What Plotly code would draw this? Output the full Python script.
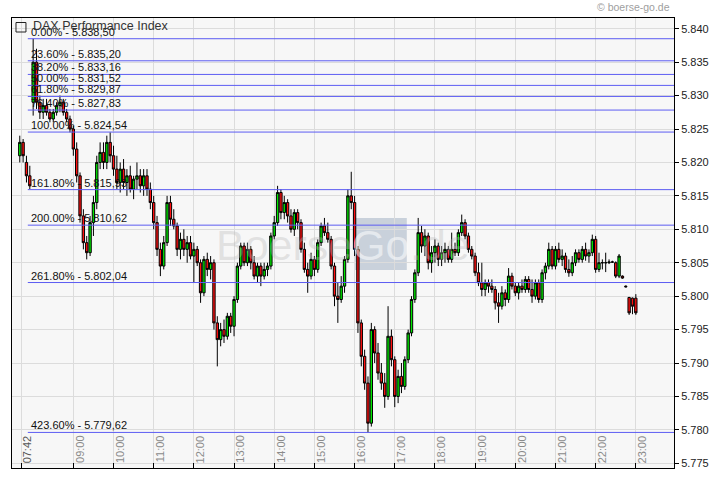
import pandas as pd
import plotly.graph_objects as go

DAY = "2010-11-04"

# 5-minute candles, 07:40 ... 23:00
open_ = [
    5821, 5823, 5820, 5818,
    5829, 5835, 5829, 5827.5, 5828.5, 5827.5, 5826.5, 5827.5, 5828.5, 5829, 5827.5, 5826.5,
    5825, 5822, 5818, 5812, 5808, 5806.5, 5811, 5814, 5820, 5821.5, 5820, 5823,
    5821, 5819, 5817, 5819, 5817, 5818, 5816, 5817.5, 5818, 5816.5, 5818, 5816,
    5814, 5811, 5807, 5804.5, 5808, 5814, 5811.5, 5810.5, 5807, 5808.5, 5807, 5808,
    5806, 5807, 5805, 5800.5, 5805.5, 5804, 5805, 5796, 5793.5, 5795, 5794, 5797,
    5795.5, 5799.5, 5804.5, 5807.5, 5805, 5807, 5805, 5803, 5804.5, 5803, 5804, 5804.5,
    5809, 5811, 5815.5, 5812.5, 5814, 5812, 5810, 5812.5, 5811, 5807, 5804, 5803,
    5805.5, 5804, 5808, 5810.5, 5809.5, 5808.5, 5804.5, 5800, 5799.5, 5801.5, 5805.5, 5815,
    5814, 5807, 5796, 5791, 5787, 5781, 5795, 5791.5, 5788.5, 5787, 5785, 5794,
    5790.5, 5785, 5788, 5786.5, 5790.5, 5794.5, 5799.5, 5803.5, 5809.5, 5807.5, 5809, 5805,
    5806.5, 5807.5, 5805.5, 5806.5, 5807, 5805.5, 5807, 5806.5, 5809.5, 5811, 5809, 5807,
    5806, 5803.5, 5802, 5801, 5802, 5801.5, 5801, 5799, 5798.5, 5800.5, 5799.5, 5803,
    5801.5, 5800.5, 5801.5, 5801, 5802.5, 5801, 5800, 5802, 5799.5, 5803.5, 5804.5, 5807,
    5804.5, 5807, 5805.5, 5806, 5804, 5803.5, 5805, 5806.5, 5805.5, 5807, 5806, 5806.5,
    5808.5, 5804, 5805, 5805, 5805, 5805.1, 5805, 5803, 5803, 5801.5, 5799.8, 5799.7,
    5799.7,
]
high_ = [
    5824, 5823.5, 5821, 5819.5,
    5838.5, 5837, 5830, 5829.5, 5829.5, 5828, 5828, 5829, 5830, 5829.5, 5828, 5827,
    5825.5, 5823, 5818.5, 5813, 5809, 5812, 5815, 5821, 5823, 5823, 5824, 5824.5,
    5822.5, 5821, 5820, 5820.5, 5819, 5819.5, 5818, 5820, 5819, 5819, 5819, 5817,
    5815, 5812, 5808, 5809, 5815, 5815, 5813, 5811, 5809.5, 5810, 5809, 5809,
    5808, 5807.5, 5805.5, 5806, 5806.5, 5806, 5805.5, 5797, 5796, 5796.5, 5797.5, 5797.5,
    5800, 5805, 5808, 5808, 5808, 5807.5, 5806, 5805, 5805, 5805, 5805, 5809.5,
    5812, 5816.5, 5816, 5815, 5814.5, 5813, 5813, 5813, 5811.5, 5808, 5805, 5806.5,
    5806, 5808.5, 5811, 5811.7, 5811, 5809, 5805, 5802, 5803, 5806, 5816, 5818.6,
    5815, 5807.5, 5796.5, 5792, 5788, 5796, 5795.5, 5793, 5790, 5788.5, 5798.5, 5795,
    5791, 5789, 5790, 5791, 5795, 5800, 5804, 5811.7, 5810.5, 5810, 5809.5, 5807.5,
    5808.5, 5808, 5807.5, 5808, 5807.5, 5809.5, 5808, 5810, 5812.2, 5811.5, 5809.5, 5807.5,
    5806.5, 5805, 5805, 5802.5, 5802.5, 5802.5, 5801.5, 5800.5, 5801.5, 5801, 5804.2, 5803.5,
    5802, 5802, 5802.5, 5803, 5803, 5802.5, 5802.5, 5802.5, 5804, 5805, 5808, 5807.5,
    5807.5, 5808, 5807, 5806.5, 5805.5, 5806, 5807, 5807, 5807.5, 5808, 5807, 5809.2,
    5809, 5806.5, 5805.5, 5806.5, 5805.5, 5805.3, 5805.2, 5806.3, 5803.1, 5801.6, 5799.9, 5799.8,
    5800.3,
]
low_ = [
    5820, 5820, 5817, 5816,
    5827, 5828, 5826.5, 5826.5, 5827, 5826, 5826, 5827, 5827.5, 5827, 5826, 5824.5,
    5821, 5817, 5811, 5807, 5805.5, 5806, 5809, 5813, 5819, 5819, 5819, 5820,
    5818, 5816, 5815.5, 5816, 5815, 5815.5, 5814.5, 5816, 5815.5, 5815, 5815, 5813,
    5810, 5806, 5803, 5804, 5807.5, 5810.5, 5810, 5806, 5805.5, 5806, 5805, 5805.5,
    5802, 5804.5, 5799, 5800, 5803, 5802.5, 5795, 5789.5, 5792.5, 5793, 5793.5, 5794.5,
    5794, 5799, 5804, 5804.5, 5804.5, 5804, 5802.5, 5802, 5801.5, 5802.5, 5803, 5804,
    5808.5, 5810.5, 5811.5, 5811.5, 5811, 5809.5, 5809, 5810, 5806.5, 5803.5, 5800.5, 5802.5,
    5803, 5803.5, 5807.5, 5809, 5808, 5804, 5798.5, 5796, 5799, 5800.5, 5805, 5813,
    5806, 5794.5, 5789.5, 5786, 5779.6, 5780.5, 5790, 5787.5, 5786, 5783.3, 5784.5, 5789.5,
    5783.4, 5784, 5785.5, 5786, 5790, 5794, 5799, 5803, 5806.5, 5806, 5804, 5803.5,
    5805, 5804.5, 5804.5, 5805, 5805, 5805, 5806, 5806, 5809, 5808.5, 5806.5, 5805.5,
    5803, 5801.5, 5800, 5800, 5800.5, 5800.5, 5798, 5796, 5798, 5798.5, 5799, 5801,
    5800, 5799.5, 5800.5, 5800.5, 5800.5, 5799, 5799.5, 5799, 5799, 5802.5, 5804, 5804,
    5804, 5805, 5804.5, 5803.5, 5802.9, 5803, 5804.5, 5805, 5805, 5805.3, 5805, 5806,
    5803.5, 5803.6, 5804, 5803.6, 5804.8, 5805, 5802.7, 5802.7, 5802.6, 5801.3, 5797.2, 5797.3,
    5797.2,
]
close_ = [
    5823, 5821, 5818, 5816.5,
    5835, 5829, 5827.5, 5828.5, 5827.5, 5826.5, 5827.5, 5828.5, 5829, 5827.5, 5826.5, 5825,
    5822, 5818, 5812, 5808, 5806.5, 5811, 5814, 5820, 5821.5, 5820, 5823, 5821,
    5819, 5817, 5819, 5817, 5818, 5816, 5817.5, 5818, 5816.5, 5818, 5816, 5814,
    5811, 5807, 5804.5, 5808, 5814, 5811.5, 5810.5, 5807, 5808.5, 5807, 5808, 5806,
    5807, 5805, 5800.5, 5805.5, 5804, 5805, 5796, 5793.5, 5795, 5794, 5797, 5795.5,
    5799.5, 5804.5, 5807.5, 5805, 5807, 5805, 5803, 5804.5, 5803, 5804, 5804.5, 5809,
    5811, 5815.5, 5812.5, 5814, 5812, 5810, 5812.5, 5811, 5807, 5804, 5803, 5805.5,
    5804, 5808, 5810.5, 5809.5, 5808.5, 5804.5, 5800, 5799.5, 5801.5, 5805.5, 5815, 5814,
    5807, 5796, 5791, 5787, 5781, 5795, 5791.5, 5788.5, 5787, 5785, 5794, 5790.5,
    5785, 5788, 5786.5, 5790.5, 5794.5, 5799.5, 5803.5, 5809.5, 5807.5, 5809, 5805, 5806.5,
    5807.5, 5805.5, 5806.5, 5807, 5805.5, 5807, 5806.5, 5809.5, 5811, 5809, 5807, 5806,
    5803.5, 5802, 5801, 5802, 5801.5, 5801, 5799, 5798.5, 5800.5, 5799.5, 5803, 5801.5,
    5800.5, 5801.5, 5801, 5802.5, 5801, 5800, 5802, 5799.5, 5803.5, 5804.5, 5807, 5804.5,
    5807, 5805.5, 5806, 5804, 5803.5, 5805, 5806.5, 5805.5, 5807, 5806, 5806.5, 5808.5,
    5804, 5805, 5805, 5805, 5805.1, 5805.1, 5803, 5806, 5802.7, 5801.4, 5797.5, 5798.5,
    5797.5,
]

# Fibonacci levels
fib_pcts = ["0.00%", "23.60%", "38.20%", "50.00%", "61.80%", "76.40%", "100.00%",
            "161.80%", "200.00%", "261.80%", "423.60%"]
fib_levels = [5838.50, 5835.20, 5833.16, 5831.52, 5829.87, 5827.83, 5824.54,
              5815.93, 5810.62, 5802.04, 5779.62]

# axis labels
y_ticks = [5775, 5780, 5785, 5790, 5795, 5800, 5805, 5810, 5815, 5820, 5825, 5830, 5835, 5840]
hour_labels = ["09:00", "10:00", "11:00", "12:00", "13:00", "14:00", "15:00", "16:00",
               "17:00", "18:00", "19:00", "20:00", "21:00", "22:00", "23:00"]
start_label = "07:42"

times = pd.date_range(f"{DAY} 07:40", periods=len(open_), freq="5min")


def de_num(v, dec=2):
    s = f"{v:,.{dec}f}"
    return s.replace(",", "X").replace(".", ",").replace("X", ".")


def ts(hhmm, add_min=0.0):
    return pd.Timestamp(f"{DAY} {hhmm}") + pd.Timedelta(minutes=add_min)


FONT = "Liberation Sans, Arial, sans-serif"

fig = go.Figure()

fig.add_trace(go.Candlestick(
    x=times, open=open_, high=high_, low=low_, close=close_,
    increasing=dict(line=dict(color="black", width=1), fillcolor="#00e600"),
    decreasing=dict(line=dict(color="black", width=1), fillcolor="#ff1010"),
    whiskerwidth=0, hoverinfo="skip", showlegend=False,
))

# Fibonacci lines
fx, fy = [], []
for lv in fib_levels:
    fx += [ts("07:52"), ts("23:59"), None]
    fy += [lv, lv, None]
fig.add_trace(go.Scatter(x=fx, y=fy, mode="lines",
                         line=dict(color="#5c5cf2", width=1),
                         hoverinfo="skip", showlegend=False))

ann = []
for p, lv in zip(fib_pcts, fib_levels):
    ann.append(dict(x=ts("07:54"), y=lv, xref="x", yref="y", xanchor="left",
                    yanchor="middle", yshift=7, showarrow=False,
                    text=f"{p} - 5.{de_num(lv - 5000).zfill(6)}",
                    font=dict(family=FONT, size=11, color="#111")))

# x labels (rotated, inside plot)
for h in hour_labels:
    ann.append(dict(x=ts(h, 9.7), y=0.042, xref="x", yref="paper", xanchor="center",
                    yanchor="middle", textangle=-90, showarrow=False, text=h,
                    font=dict(family=FONT, size=11, color="#8a8a8a")))
ann.append(dict(x=ts(start_label, 9.2), y=0.042, xref="x", yref="paper", xanchor="center",
                yanchor="middle", textangle=-90, showarrow=False, text=start_label,
                font=dict(family=FONT, size=11, color="#555")))

# title, copyright
ann.append(dict(x=(30 - 11) / 664, y=(468 - 26.5) / 450, xref="paper", yref="paper",
                xanchor="left", yanchor="middle", showarrow=False,
                text="DAX Performance Index",
                font=dict(family=FONT, size=12.5, color="#333")))
ann.append(dict(x=0.997, y=(468 - 7.5) / 450, xref="paper", yref="paper",
                xanchor="right", yanchor="middle", showarrow=False,
                text="© boerse-go.de",
                font=dict(family=FONT, size=10.5, color="#a0a0a0")))

# watermark
wm_y = (468 - 245) / 450
ann.append(dict(x=(354 - 11) / 664, y=wm_y, xref="paper", yref="paper", xanchor="right",
                yanchor="middle", showarrow=False, text="Boerse",
                font=dict(family=FONT, size=43, color="rgba(185,185,185,0.35)")))
ann.append(dict(x=(381 - 11) / 664, y=wm_y, xref="paper", yref="paper", xanchor="center",
                yanchor="middle", showarrow=False, text="Go",
                font=dict(family=FONT, size=43, color="rgba(255,255,255,0.55)")))
ann.append(dict(x=(408 - 11) / 664, y=wm_y, xref="paper", yref="paper", xanchor="left",
                yanchor="middle", showarrow=False, text=".de",
                font=dict(family=FONT, size=43, color="rgba(185,185,185,0.35)")))

shapes = [
    dict(type="rect", xref="paper", yref="paper", layer="between",
         x0=(355 - 11) / 664, x1=(407 - 11) / 664, y0=(468 - 270) / 450, y1=(468 - 218) / 450,
         fillcolor="#c9d1db", line=dict(width=0)),
    dict(type="rect", xref="paper", yref="paper",
         x0=(15 - 11) / 664, x1=(25 - 11) / 664, y0=(468 - 32) / 450, y1=(468 - 22.5) / 450,
         line=dict(color="#222", width=1), fillcolor="rgba(0,0,0,0)"),
]

x_grid = [ts(start_label)] + [ts(h) for h in hour_labels]

fig.update_layout(
    width=720, height=481,
    margin=dict(l=11, r=45, t=18, b=13),
    paper_bgcolor="white", plot_bgcolor="#f7f7f7",
    showlegend=False, hovermode=False, boxgap=0,
    annotations=ann, shapes=shapes,
    xaxis=dict(type="date", range=[ts("07:28", 0.4), ts("23:57")],
               rangeslider=dict(visible=False),
               tickmode="array", tickvals=x_grid, showticklabels=False,
               ticks="inside", ticklen=5, tickcolor="black",
               showgrid=True, gridcolor="#dcdcdc", gridwidth=1,
               showline=True, linecolor="black", linewidth=1, mirror=True,
               zeroline=False, fixedrange=True),
    yaxis=dict(side="right", range=[5774.3, 5841.6],
               tickmode="array", tickvals=y_ticks,
               ticktext=[f"5.{v - 5000:03d}" for v in y_ticks],
               ticks="outside", ticklen=4, tickcolor="black",
               tickfont=dict(family=FONT, size=11, color="#222"),
               showgrid=True, gridcolor="#dcdcdc", gridwidth=1,
               showline=True, linecolor="black", linewidth=1, mirror=True,
               zeroline=False, fixedrange=True),
)

fig.write_html("out.html", config={"displayModeBar": False},
               post_script="document.body.style.margin='0px';document.body.style.overflow='hidden';")
